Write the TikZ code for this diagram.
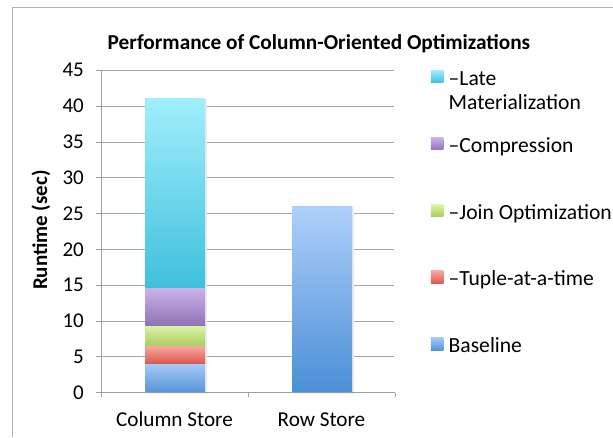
\documentclass[tikz,border=0pt]{standalone}
\usepackage{fontspec}
\setmainfont{Carlito}
\begin{document}
\begin{tikzpicture}[x=1pt,y=1pt,
  grid/.style={draw=black!35, line width=0.9pt},
  axisline/.style={draw=black!38, line width=0.9pt},
  ticklab/.style={anchor=east, font=\fontsize{21}{25}\selectfont, inner sep=0pt},
  catlab/.style={anchor=base, font=\fontsize{21.2}{25}\selectfont, inner sep=0pt},
  legtext/.style={anchor=base west, font=\fontsize{21.6}{25}\selectfont, inner sep=0pt},
  legbox/.style={minimum size=12.5pt, inner sep=0pt},
  barshadow/.style={fill=black!8},
]
\useasboundingbox (0,0) rectangle (613,-437);
\fill[white] (0,0) rectangle (613,-437);
% outer frame
\draw[draw=black!30, line width=0.9pt] (12,-437) -- (12,-7) -- (613,-7);
% title
\node[anchor=base, font=\bfseries\fontsize{21.3}{25}\selectfont, inner sep=0pt] (title) at (319,-49) {Performance of Column-Oriented Optimizations};
% y label
\node[rotate=90, font=\bfseries\fontsize{21}{25}\selectfont, inner sep=0pt] (ylab) at (41,-230) {Runtime (sec)};
\begin{scope}[shift={(0,-392.7)}, y=7.164pt]
  % gridlines
  \foreach \v in {5,10,...,45} {
    \draw[grid] (101,\v) -- (394,\v);
  }
  % y tick marks and labels
  \foreach \v in {0,5,...,45} {
    \draw[axisline] (96,\v) -- (101,\v);
    \node[ticklab] (t\v) at (84,\v) {\v};
  }
  % bar shadows
  \fill[barshadow] (146.5,-0.25) rectangle (206.5,41.0);
  \fill[barshadow] (293.5,-0.25) rectangle (353.5,25.9);
  % column store stack
  \fill[bottom color={rgb,255:red,84;green,148;blue,216}, top color={rgb,255:red,167;green,201;blue,247}] (145,0) rectangle (205,4.1);
  \fill[bottom color={rgb,255:red,222;green,88;blue,78}, top color={rgb,255:red,246;green,170;blue,160}] (145,4.1) rectangle (205,6.55);
  \fill[bottom color={rgb,255:red,170;green,204;blue,96}, top color={rgb,255:red,223;green,245;blue,168}] (145,6.55) rectangle (205,9.45);
  \fill[bottom color={rgb,255:red,145;green,116;blue,184}, top color={rgb,255:red,203;green,180;blue,233}] (145,9.45) rectangle (205,14.75);
  \fill[bottom color={rgb,255:red,64;green,192;blue,221}, top color={rgb,255:red,160;green,239;blue,252}] (145,14.75) rectangle (205,41.1);
  % row store
  \fill[bottom color={rgb,255:red,74;green,143;blue,214}, top color={rgb,255:red,174;green,207;blue,251}] (292,0) rectangle (352,25.95);
  % axes
  \draw[axisline] (101,0) -- (101,45);
  \draw[axisline] (101,0) -- (395,0);
  \foreach \xx in {101,248,395} {
    \draw[axisline] (\xx,0) -- (\xx,-0.65);
  }
\end{scope}
% category labels
\node[catlab] (c1) at (174.5,-426.5) {Column Store};
\node[catlab] (c2) at (321.5,-426.5) {Row Store};
% legend
\node[legbox, top color={rgb,255:red,160;green,239;blue,252}, bottom color={rgb,255:red,64;green,192;blue,221}] (k1) at (437.2,-76.3) {};
\node[legtext] (l1) at (448.5,-85) {–Late};
\node[legtext] (l1b) at (448.5,-109.3) {Materialization};
\node[legbox, top color={rgb,255:red,203;green,180;blue,233}, bottom color={rgb,255:red,145;green,116;blue,184}] (k2) at (437.2,-143.5) {};
\node[legtext] (l2) at (448.5,-152.3) {–Compression};
\node[legbox, top color={rgb,255:red,223;green,245;blue,168}, bottom color={rgb,255:red,170;green,204;blue,96}] (k3) at (437.2,-210.3) {};
\node[legtext] (l3) at (448.5,-219) {–Join Optimization};
\node[legbox, top color={rgb,255:red,246;green,170;blue,160}, bottom color={rgb,255:red,222;green,88;blue,78}] (k4) at (437.2,-277) {};
\node[legtext] (l4) at (448.5,-285.7) {–Tuple-at-a-time};
\node[legbox, top color={rgb,255:red,167;green,201;blue,247}, bottom color={rgb,255:red,84;green,148;blue,216}] (k5) at (437.2,-343.8) {};
\node[legtext] (l5) at (448.5,-352.3) {Baseline};
\end{tikzpicture}
\end{document}
